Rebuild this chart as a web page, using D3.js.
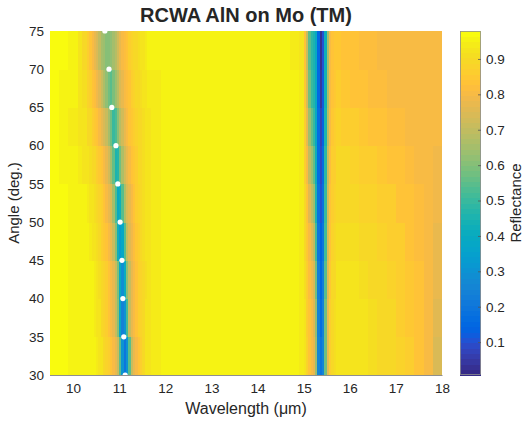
<!DOCTYPE html>
<html>
<head>
<meta charset="utf-8">
<script src="https://cdn.jsdelivr.net/npm/d3@7"></script>
<style>
  body { margin: 0; background: #fff; }
  text { font-family: "Liberation Sans", Arial, Helvetica, sans-serif; fill: #262626; }
</style>
</head>
<body>
<svg id="chart" width="526" height="422"></svg>
<script>
// define data
// angle rows: each row spans angles[i] .. angles[i+1]
const angles = [30, 35, 40, 45, 50, 55, 60, 65, 70, 75];

// wavelength cell edges (um)
const wavelengths = [
  9.5, 9.7, 9.9, 10.1, 10.2,
  10.3, 10.35, 10.4, 10.45, 10.5, 10.55, 10.6, 10.65, 10.7, 10.75, 10.8, 10.85, 10.9, 10.95,
  11.0, 11.05, 11.1, 11.15, 11.2, 11.25, 11.3, 11.35, 11.4, 11.45, 11.5, 11.55,
  11.6, 11.7, 11.9, 12.2, 12.6, 13.0, 13.5, 14.0, 14.4, 14.7, 14.9,
  15.0, 15.05, 15.1, 15.15, 15.2, 15.25, 15.3, 15.35, 15.4, 15.45, 15.5, 15.55, 15.6, 15.65,
  15.7, 15.8, 16.0, 16.2, 16.4, 16.6, 16.8, 17.0, 17.2, 17.4, 17.6, 17.8, 18.0
];

// reflectance per angle row (one value per wavelength cell)
const refl30 = [.97,.97,.96,.96,.96,
  .96,.96,.95,.95,.94,.93,.92,.90,.88,.86,.84,.81,.78,.72,.55,.30,.19,.30,.55,.72,.78,.81,.84,.87,.90,.92,
  .93,.94,.95,.96,.96,.96,.96,.96,.96,.95,.94,
  .92,.88,.84,.81,.77,.64,.26,.19,.26,.58,.78,.86,.89,.91,
  .93,.93,.93,.92,.91,.90,.89,.88,.86,.83,.80,.75];
const refl35 = [.97,.97,.96,.96,.96,
  .96,.96,.95,.94,.93,.92,.90,.88,.86,.84,.81,.78,.72,.60,.38,.24,.30,.52,.72,.78,.81,.84,.86,.88,.90,.92,
  .93,.94,.95,.96,.96,.96,.96,.96,.96,.95,.94,
  .92,.87,.83,.80,.76,.62,.24,.17,.24,.57,.77,.86,.89,.91,
  .93,.93,.92,.92,.91,.90,.89,.87,.85,.83,.80,.76];
const refl40 = [.97,.97,.96,.96,.96,
  .96,.96,.95,.94,.93,.91,.90,.88,.86,.83,.81,.78,.72,.59,.39,.29,.41,.60,.72,.78,.81,.83,.86,.88,.90,.91,
  .93,.94,.95,.96,.96,.96,.96,.96,.96,.95,.94,
  .91,.86,.82,.79,.74,.58,.22,.15,.22,.55,.76,.85,.89,.90,
  .92,.92,.92,.91,.90,.89,.88,.87,.85,.83,.80,.77];
const refl45 = [.97,.97,.96,.96,.96,
  .96,.94,.93,.92,.91,.89,.87,.85,.83,.80,.77,.72,.61,.43,.34,.38,.55,.70,.76,.79,.82,.85,.87,.89,.91,.92,
  .93,.94,.95,.96,.96,.96,.96,.96,.96,.95,.94,
  .90,.85,.80,.76,.70,.52,.20,.13,.20,.52,.75,.84,.88,.89,
  .91,.91,.91,.90,.89,.88,.87,.86,.84,.82,.80,.78];
const refl50 = [.97,.97,.96,.95,.95,
  .94,.93,.92,.91,.90,.88,.86,.83,.81,.78,.74,.66,.53,.40,.42,.55,.67,.74,.78,.81,.83,.86,.88,.89,.91,.92,
  .93,.94,.95,.96,.96,.96,.96,.96,.96,.95,.94,
  .89,.83,.76,.70,.63,.46,.18,.11,.18,.50,.73,.83,.87,.88,
  .90,.90,.89,.88,.88,.87,.86,.84,.83,.82,.80,.79];
const refl55 = [.97,.96,.95,.94,.93,
  .92,.91,.90,.89,.87,.85,.83,.80,.77,.73,.66,.56,.45,.47,.58,.67,.73,.77,.80,.83,.85,.87,.89,.90,.91,.92,
  .93,.94,.95,.96,.96,.96,.96,.96,.96,.95,.94,
  .87,.80,.70,.63,.56,.42,.17,.09,.16,.48,.71,.82,.86,.87,
  .89,.89,.88,.87,.86,.85,.84,.83,.82,.81,.80,.79];
const refl60 = [.97,.96,.94,.93,.92,
  .90,.89,.87,.85,.83,.81,.78,.75,.71,.65,.57,.50,.53,.61,.68,.73,.77,.80,.83,.85,.86,.88,.89,.90,.91,.92,
  .93,.94,.95,.95,.96,.96,.96,.96,.96,.95,.94,
  .86,.77,.64,.56,.50,.40,.16,.07,.14,.46,.69,.81,.85,.86,
  .88,.87,.86,.85,.84,.83,.82,.82,.81,.81,.80,.80];
const refl65 = [.97,.96,.95,.93,.91,
  .88,.86,.84,.82,.79,.76,.72,.67,.62,.57,.55,.59,.64,.69,.74,.77,.80,.82,.84,.86,.88,.89,.90,.91,.92,.93,
  .94,.94,.95,.95,.96,.96,.96,.96,.95,.95,.94,
  .85,.74,.58,.50,.47,.40,.15,.05,.12,.44,.67,.80,.84,.85,
  .86,.85,.84,.83,.82,.82,.81,.81,.81,.80,.80,.80];
const refl70 = [.97,.97,.95,.92,.89,
  .86,.84,.81,.78,.74,.70,.66,.63,.60,.60,.62,.65,.69,.73,.77,.80,.82,.84,.86,.88,.89,.90,.91,.92,.93,.94,
  .95,.95,.95,.95,.96,.96,.96,.96,.95,.94,.93,
  .84,.72,.55,.48,.45,.40,.15,.03,.10,.42,.65,.80,.84,.85,
  .85,.84,.83,.82,.82,.81,.81,.81,.81,.80,.80,.80];
const rows = [refl30, refl35, refl40, refl45, refl50, refl55, refl60, refl65, refl70];

// colour limits
const cLimits = [0.007, 0.979];
const cbarTicks = [0.1, 0.2, 0.3, 0.4, 0.5, 0.6, 0.7, 0.8, 0.9];

// marked dip positions (white dots)
const dipAngles = [30, 35, 40, 45, 50, 55, 60, 65, 70, 75];
const dipWavelengths = [11.13, 11.10, 11.08, 11.06, 11.02, 10.97, 10.93, 10.84, 10.78, 10.69];

const xTicks = [10, 11, 12, 13, 14, 15, 16, 17, 18];
const yTicks = [30, 35, 40, 45, 50, 55, 60, 65, 70, 75];

// parula colormap (64 entries)
const parula = [
  [.2081,.1663,.5292],[.2116,.1898,.5777],[.2123,.2138,.6270],[.2081,.2386,.6771],
  [.1959,.2645,.7279],[.1707,.2919,.7792],[.1253,.3242,.8303],[.0591,.3598,.8683],
  [.0117,.3875,.8820],[.0060,.4086,.8828],[.0165,.4266,.8786],[.0329,.4430,.8720],
  [.0498,.4586,.8641],[.0629,.4737,.8554],[.0723,.4887,.8467],[.0779,.5040,.8384],
  [.0793,.5200,.8312],[.0749,.5375,.8263],[.0641,.5570,.8240],[.0488,.5772,.8228],
  [.0343,.5966,.8199],[.0265,.6137,.8135],[.0239,.6287,.8038],[.0231,.6418,.7913],
  [.0228,.6535,.7768],[.0267,.6642,.7607],[.0384,.6743,.7436],[.0590,.6838,.7254],
  [.0843,.6928,.7062],[.1133,.7015,.6859],[.1453,.7098,.6646],[.1801,.7177,.6424],
  [.2178,.7250,.6193],[.2586,.7317,.5954],[.3022,.7376,.5712],[.3482,.7424,.5473],
  [.3953,.7459,.5244],[.4420,.7481,.5033],[.4871,.7491,.4840],[.5300,.7491,.4661],
  [.5709,.7485,.4494],[.6099,.7473,.4337],[.6473,.7456,.4188],[.6834,.7435,.4044],
  [.7184,.7411,.3905],[.7525,.7384,.3768],[.7858,.7356,.3633],[.8185,.7327,.3498],
  [.8507,.7299,.3360],[.8824,.7274,.3217],[.9139,.7258,.3063],[.9450,.7261,.2886],
  [.9739,.7314,.2666],[.9938,.7455,.2403],[.9990,.7653,.2164],[.9955,.7861,.1967],
  [.9880,.8066,.1794],[.9789,.8271,.1633],[.9697,.8481,.1475],[.9626,.8705,.1309],
  [.9589,.8949,.1132],[.9598,.9218,.0948],[.9661,.9514,.0755],[.9763,.9831,.0538]
].map(c => d3.rgb(c[0] * 255, c[1] * 255, c[2] * 255).formatHex());

const color = d3.scaleQuantize().domain(cLimits).range(parula);

// layout
const svg = d3.select("#chart");
const margin = { left: 50, right: 442, top: 31, bottom: 375 };

const x = d3.scaleLinear().domain([9.5, 18]).range([margin.left, margin.right]);
const y = d3.scaleLinear().domain([30, 75]).range([margin.bottom, margin.top]);

// heatmap cells
const cells = [];
rows.forEach((vals, r) => {
  vals.forEach((v, i) => {
    cells.push({ a0: angles[r], a1: angles[r + 1], w0: wavelengths[i], w1: wavelengths[i + 1], v });
  });
});

svg.append("g")
  .selectAll("rect")
  .data(cells)
  .enter().append("rect")
    .attr("x", d => x(d.w0))
    .attr("y", d => y(d.a1))
    .attr("width", d => x(d.w1) - x(d.w0) + 0.4)
    .attr("height", d => y(d.a0) - y(d.a1) + 0.4)
    .attr("fill", d => color(d.v))
    .attr("shape-rendering", "crispEdges");

// dip markers
svg.append("defs").append("clipPath").attr("id", "plot-clip")
  .append("rect")
    .attr("x", margin.left).attr("y", margin.top)
    .attr("width", margin.right - margin.left).attr("height", margin.bottom - margin.top);

svg.append("g")
  .attr("clip-path", "url(#plot-clip)")
  .selectAll("circle")
  .data(dipAngles)
  .enter().append("circle")
    .attr("cx", (d, i) => x(dipWavelengths[i]))
    .attr("cy", d => y(d))
    .attr("r", 2.6)
    .attr("fill", "#fff");

// axes
const xAxis = d3.axisBottom(x).tickValues(xTicks).tickSize(0).tickPadding(8).tickFormat(d3.format("d"));
const yAxis = d3.axisLeft(y).tickValues(yTicks).tickSize(0).tickPadding(6).tickFormat(d3.format("d"));

const gx = svg.append("g").attr("transform", `translate(0,${margin.bottom})`).call(xAxis);
const gy = svg.append("g").attr("transform", `translate(${margin.left},0)`).call(yAxis);
[gx, gy].forEach(g => {
  g.select(".domain").remove();
  g.selectAll("text").style("font-size", "13.5px").attr("fill", "#262626");
});

svg.append("line")
  .attr("x1", margin.left).attr("x2", margin.right + 0.5)
  .attr("y1", margin.bottom + 0.5).attr("y2", margin.bottom + 0.5)
  .attr("stroke", "#8f8f8f").attr("stroke-width", 1);

// labels
svg.append("text")
  .attr("x", (margin.left + margin.right) / 2)
  .attr("y", 22)
  .attr("text-anchor", "middle")
  .style("font-size", "20px")
  .style("font-weight", "bold")
  .attr("fill", "#000")
  .text("RCWA AlN on Mo (TM)");

svg.append("text")
  .attr("x", (margin.left + margin.right) / 2)
  .attr("y", 414)
  .attr("text-anchor", "middle")
  .style("font-size", "16px")
  .text("Wavelength (\u03bcm)");

svg.append("text")
  .attr("transform", `translate(19,${(margin.top + margin.bottom) / 2}) rotate(-90)`)
  .attr("text-anchor", "middle")
  .style("font-size", "15px")
  .text("Angle (deg.)");

// colorbar
const cbar = { x: 460, w: 21 };
const cy = d3.scaleLinear().domain(cLimits).range([margin.bottom, margin.top]);
const step = (cLimits[1] - cLimits[0]) / parula.length;

svg.append("g")
  .selectAll("rect")
  .data(parula)
  .enter().append("rect")
    .attr("x", cbar.x)
    .attr("y", (d, i) => cy(cLimits[0] + (i + 1) * step))
    .attr("width", cbar.w)
    .attr("height", cy(cLimits[0]) - cy(cLimits[0] + step) + 0.5)
    .attr("fill", d => d)
    .attr("shape-rendering", "crispEdges");

svg.append("rect")
  .attr("x", cbar.x + 0.5).attr("y", margin.top + 0.5)
  .attr("width", cbar.w - 1).attr("height", margin.bottom - margin.top - 1)
  .attr("fill", "none")
  .attr("stroke", "#8f8f8f")
  .attr("stroke-width", 0.8);

const cAxis = d3.axisRight(cy).tickValues(cbarTicks).tickSize(0).tickPadding(5).tickFormat(d3.format(".1f"));
const gc = svg.append("g").attr("transform", `translate(${cbar.x + cbar.w},0)`).call(cAxis);
gc.select(".domain").remove();
gc.selectAll("text").style("font-size", "13.5px").attr("fill", "#262626");
gc.selectAll(".tick").append("line")
  .attr("x1", 0).attr("x2", -3)
  .attr("stroke", "#555").attr("stroke-width", 0.8);

svg.append("text")
  .attr("transform", `translate(521,${(margin.top + margin.bottom) / 2}) rotate(-90)`)
  .attr("text-anchor", "middle")
  .style("font-size", "15px")
  .text("Reflectance");
</script>
</body>
</html>
